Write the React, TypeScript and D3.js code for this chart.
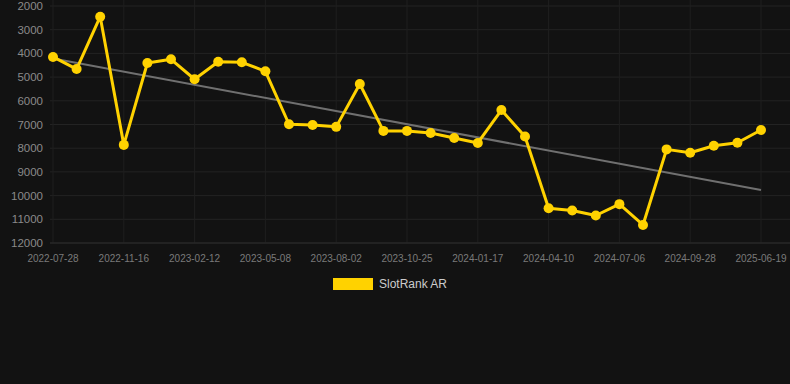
import React from "react";
import * as d3 from "d3";

const dates = [
  "2022-07-28", "2022-09-03", "2022-10-10", "2022-11-16", "2022-12-15", "2023-01-14",
  "2023-02-12", "2023-03-12", "2023-04-09", "2023-05-08", "2023-06-05", "2023-07-04",
  "2023-08-02", "2023-08-30", "2023-09-27", "2023-10-25", "2023-11-22", "2023-12-20",
  "2024-01-17", "2024-02-14", "2024-03-13", "2024-04-10", "2024-05-09", "2024-06-07",
  "2024-07-06", "2024-08-03", "2024-08-31", "2024-09-28", "2024-12-28", "2025-03-25",
  "2025-06-19",
];

const ranks = [
  4150, 4660, 2450, 7860, 4405, 4250, 5090, 4350, 4375, 4755, 6990, 7020, 7100, 5290,
  7270, 7270, 7360, 7570, 7780, 6390, 7510, 10530, 10630, 10840, 10360, 11240, 8050,
  8190, 7895, 7770, 7230,
];

const yTicks = [2000, 3000, 4000, 5000, 6000, 7000, 8000, 9000, 10000, 11000, 12000];
const seriesName = "SlotRank AR";

const W = 790;
const H = 384;

export default function App() {
  const x = d3.scalePoint<string>().domain(dates).range([53, 761]);
  const y = d3.scaleLinear().domain([2000, 12000]).range([6, 243]);

  const n = ranks.length;
  const xs = d3.range(n);
  const mx = d3.mean(xs)!;
  const my = d3.mean(ranks)!;
  const slope =
    d3.sum(xs, (i) => (i - mx) * (ranks[i] - my)) / d3.sum(xs, (i) => (i - mx) * (i - mx));
  const icpt = my - slope * mx;

  const line = d3
    .line<number>()
    .x((_, i) => x(dates[i])!)
    .y((d) => y(d));

  const labelDates = dates.filter((_, i) => i % 3 === 0);

  return (
    <svg
      width={W}
      height={H}
      style={{ position: "absolute", left: 0, top: 0, background: "#121212" }}
      fontFamily="Liberation Sans, Arial, sans-serif"
    >
      <rect x={0} y={0} width={W} height={H} fill="#121212" />
      {yTicks.map((t) => (
        <line key={"h" + t} x1={50} x2={W} y1={y(t)} y2={y(t)} stroke="#232323" strokeWidth={1} />
      ))}
      {labelDates.map((d) => (
        <line key={"v" + d} x1={x(d)} x2={x(d)} y1={0} y2={y(12000)} stroke="#1f1f1f" strokeWidth={1} />
      ))}
      <line x1={50} x2={W} y1={y(12000)} y2={y(12000)} stroke="#2a2a2a" strokeWidth={1} />
      {yTicks.map((t) => (
        <text
          key={"yt" + t}
          x={43}
          y={y(t)}
          dy="0.35em"
          textAnchor="end"
          fontSize={11.5}
          fill="#8a8a8a"
        >
          {t}
        </text>
      ))}
      {labelDates.map((d) => (
        <text key={"xt" + d} x={x(d)} y={258} dy="0.35em" textAnchor="middle" fontSize={10} fill="#7a7a7a">
          {d}
        </text>
      ))}
      <line
        x1={x(dates[0])}
        y1={y(icpt)}
        x2={x(dates[n - 1])}
        y2={y(icpt + slope * (n - 1))}
        stroke="#707070"
        strokeWidth={2}
      />
      <path d={line(ranks)!} fill="none" stroke="#FFD200" strokeWidth={3} strokeLinejoin="round" />
      {ranks.map((v, i) => (
        <circle key={"c" + i} cx={x(dates[i])} cy={y(v)} r={5} fill="#FFD200" />
      ))}
      <rect x={333} y={278} width={40} height={12} fill="#FFD200" />
      <text x={379} y={284} dy="0.35em" fontSize={12} fill="#cccccc">
        {seriesName}
      </text>
    </svg>
  );
}
